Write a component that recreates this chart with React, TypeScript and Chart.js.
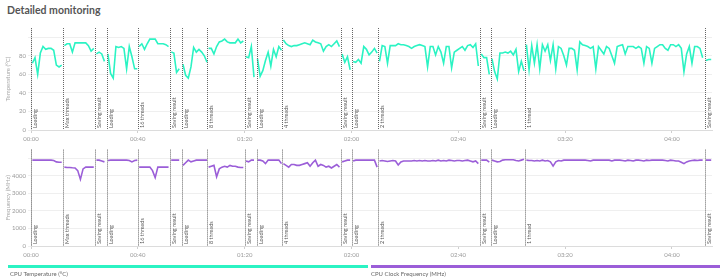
import React, { useEffect, useRef } from "react";
import { Chart, registerables } from "chart.js";
Chart.register(...registerables);

const TEAL = "#2bf3c3";
const PURPLE = "#9b5ed8";
const FONT = "Lato";

// Phase markers (minutes from start)
const phaseLabels = ["Loading", "Max threads", "Saving result", "Loading", "16 threads", "Saving result", "Loading", "8 threads", "Saving result", "Loading", "4 threads", "Saving result", "Loading", "2 threads", "Saving result", "Loading", "1 thread", "Saving result"];
const phaseStarts = [0, 12, 24, 28.3, 40, 52, 56.4, 66, 80, 84.5, 94, 116, 120.3, 130, 168.2, 172.3, 185, 252.2];
// time of first sample in each phase (minutes); samples every minute
const firstSample = [0.5, 12.5, 24.5, 28.8, 40.5, 52.5, 56.9, 66.5, 80.5, 84.8, 94.5, 116.5, 120.6, 130.5, 168.6, 172.6, 185.5, 252.7];
const sampleStep = 1;

// x axis
const xMin = 0;
const xMax = 255;
const xTickStep = 40;

// CPU temperature (°C) per phase
const temp1 = [72, 78, 60, 83, 90, 87, 88, 88, 86, 70, 68, 70];
const temp2 = [91, 93, 93, 84, 94, 94, 94, 94, 94, 91, 85, 88];
const temp3 = [82, 84, 82, 74];
const temp4 = [82, 61, 56, 90, 89, 90, 88, 66, 90, 79, 66, 66];
const temp5 = [90, 93, 87, 93, 98, 98, 98, 93, 93, 93, 92, 90];
const temp6 = [84, 83, 62, 66];
const temp7 = [71, 59, 56, 68, 89, 84, 87, 84, 80, 73];
const temp8 = [88, 88, 82, 90, 95, 96, 98, 95, 94, 94, 94, 98, 94, 96];
const temp9 = [79, 78, 90, 57];
const temp10 = [77, 58, 64, 75, 84, 69, 87, 79, 90, 86];
const temp11 = [97, 93, 91, 90, 91, 91, 92, 93, 94, 93, 92, 97, 95, 94, 93, 85, 90, 92, 90, 93, 96, 90];
const temp12 = [82, 73, 79, 65];
const temp13 = [74, 73, 76, 72, 90, 87, 81, 84, 88, 83];
const temp14 = [74, 91, 90, 72, 91, 91, 91, 93, 92, 92, 91, 90, 88, 90, 91, 92, 91, 90, 68, 90, 90, 81, 90, 84, 72, 90, 90, 67, 84, 86, 88, 90, 86, 91, 92, 89, 93, 69];
const temp15 = [82, 78, 78, 60];
const temp16 = [77, 63, 55, 83, 83, 84, 83, 85, 81, 87, 63, 74, 64];
const temp17 = [92, 65, 91, 72, 92, 66, 92, 85, 92, 75, 92, 66, 90, 88, 80, 70, 88, 88, 86, 65, 95, 92, 91, 90, 88, 90, 66, 90, 86, 82, 90, 88, 80, 72, 90, 91, 92, 82, 90, 90, 90, 88, 90, 88, 72, 90, 88, 72, 88, 90, 92, 92, 88, 86, 92, 92, 90, 92, 88, 63, 82, 90, 72, 90, 90, 88, 78];
const temp18 = [75, 76, 76];

// CPU clock frequency (MHz) per phase
const freq1 = [4900, 4900, 4900, 4900, 4900, 4900, 4900, 4900, 4880, 4800, 4780, 4780];
const freq2 = [4500, 4480, 4480, 4460, 4450, 4300, 3800, 4400, 4500, 4500, 4500, 4500];
const freq3 = [4900, 4900, 4850, 4800];
const freq4 = [4880, 4900, 4900, 4900, 4900, 4900, 4900, 4900, 4880, 4800, 4880, 4900];
const freq5 = [4500, 4500, 4500, 4500, 4500, 4300, 3900, 4500, 4500, 4500, 4500, 4500];
const freq6 = [4900, 4900, 4900, 4900];
const freq7 = [4600, 4750, 4900, 4800, 4850, 4900, 4900, 4900, 4900, 4900];
const freq8 = [4500, 4550, 4600, 3950, 4400, 4500, 4550, 4500, 4600, 4550, 4550, 4500, 4480, 4480];
const freq9 = [4850, 4800, 4900, 4900];
const freq10 = [4900, 4900, 4850, 4700, 4900, 4900, 4900, 4900, 4900, 4700];
const freq11 = [4700, 4600, 4500, 4650, 4650, 4600, 4600, 4650, 4700, 4750, 4550, 4750, 4900, 4550, 4650, 4600, 4500, 4550, 4450, 4550, 4650, 4500];
const freq12 = [4800, 4850, 4900, 4900];
const freq13 = [4850, 4900, 4900, 4900, 4900, 4900, 4900, 4900, 4900, 4500];
const freq14 = [4850, 4880, 4850, 4820, 4850, 4880, 4850, 4620, 4800, 4850, 4850, 4850, 4850, 4880, 4850, 4880, 4850, 4880, 4850, 4850, 4880, 4850, 4900, 4850, 4880, 4850, 4900, 4880, 4850, 4880, 4880, 4850, 4880, 4900, 4850, 4800, 4850, 4700];
const freq15 = [4900, 4900, 4900, 4780];
const freq16 = [4900, 4850, 4800, 4820, 4900, 4920, 4920, 4920, 4920, 4880, 4850, 4900, 4950];
const freq17 = [4900, 4880, 4880, 4850, 4880, 4850, 4900, 4850, 4880, 4800, 4560, 4800, 4880, 4850, 4900, 4900, 4900, 4900, 4900, 4900, 4900, 4900, 4900, 4880, 4850, 4900, 4900, 4900, 4900, 4900, 4900, 4900, 4850, 4900, 4900, 4900, 4880, 4850, 4900, 4880, 4850, 4900, 4900, 4880, 4850, 4900, 4880, 4900, 4900, 4900, 4900, 4900, 4880, 4850, 4900, 4880, 4850, 4850, 4780, 4700, 4800, 4850, 4880, 4900, 4880, 4900, 4900];
const freq18 = [4900, 4900, 4900];

const tempSegments = [temp1, temp2, temp3, temp4, temp5, temp6, temp7, temp8, temp9, temp10, temp11, temp12, temp13, temp14, temp15, temp16, temp17, temp18];
const freqSegments = [freq1, freq2, freq3, freq4, freq5, freq6, freq7, freq8, freq9, freq10, freq11, freq12, freq13, freq14, freq15, freq16, freq17, freq18];

function buildPoints(segments: number[][]) {
  const pts: { x: number; y: number | null }[] = [];
  segments.forEach((seg, si) => {
    seg.forEach((v, i) => pts.push({ x: firstSample[si] + i * sampleStep, y: v }));
    const next = si + 1 < phaseStarts.length ? phaseStarts[si + 1] : xMax;
    pts.push({ x: next, y: null });
  });
  return pts;
}

function fmtTime(v: number) {
  const h = Math.floor(v / 60);
  const m = Math.round(v - h * 60);
  return String(h).padStart(2, "0") + ":" + String(m).padStart(2, "0");
}

const markerPlugin = {
  id: "phaseMarkers",
  afterDatasetsDraw(chart: any) {
    const { ctx, chartArea, scales } = chart;
    const xs = scales.x;
    ctx.save();
    phaseStarts.forEach((t, i) => {
      const x = Math.round(xs.getPixelForValue(t)) + 0.5;
      ctx.strokeStyle = "#666";
      ctx.lineWidth = 1;
      ctx.setLineDash([1, 1]);
      ctx.beginPath();
      ctx.moveTo(x, chartArea.top);
      ctx.lineTo(x, chartArea.bottom);
      ctx.stroke();
      ctx.setLineDash([]);
      ctx.save();
      ctx.translate(x + 4, chartArea.bottom - 2);
      ctx.rotate(-Math.PI / 2);
      ctx.fillStyle = "#555";
      ctx.font = `5.5px ${FONT}`;
      ctx.textAlign = "left";
      ctx.textBaseline = "middle";
      ctx.fillText(phaseLabels[i], 0, 0);
      ctx.restore();
    });
    ctx.restore();
  },
};

function makeChart(canvas: HTMLCanvasElement, segments: number[][], color: string, yMax: number, yStep: number, labelStep: number, labelMax: number, yTitle: string, padTop: number) {
  return new Chart(canvas, {
    type: "line",
    data: {
      datasets: [
        {
          data: buildPoints(segments) as any,
          borderColor: color,
          backgroundColor: color,
          borderWidth: 1.6,
          pointRadius: 0,
          tension: 0,
          spanGaps: false,
        },
      ],
    },
    options: {
      animation: false,
      responsive: false,
      parsing: true,
      layout: { padding: { top: padTop, right: 8, left: 0, bottom: 0 } },
      plugins: { legend: { display: false }, tooltip: { enabled: false } },
      scales: {
        x: {
          type: "linear",
          min: xMin,
          max: xMax,
          afterFit: (s: any) => { s.height = 16; },
          grid: { display: true, drawOnChartArea: false, drawTicks: true, tickLength: 3, color: "#cfcfcf" },
          border: { color: "#dcdcdc" },
          ticks: {
            stepSize: xTickStep,
            includeBounds: false,
            padding: 2,
            color: "#9a9a9a",
            font: { family: FONT, size: 6 },
            maxRotation: 0,
            callback: (v: any) => (Number(v) % xTickStep === 0 ? fmtTime(Number(v)) : ""),
          },
        },
        y: {
          min: 0,
          max: yMax,
          afterFit: (s: any) => { s.width = 31; },
          grid: { color: "#efefef", tickLength: 3, drawTicks: true },
          border: { color: "#dcdcdc" },
          ticks: {
            stepSize: yStep,
            padding: 2,
            color: "#9a9a9a",
            font: { family: FONT, size: 6 },
            callback: (v: any) => (Number(v) % labelStep === 0 && Number(v) <= labelMax ? String(v) : ""),
          },
          title: { display: true, text: yTitle, color: "#a8a8a8", font: { family: FONT, size: 6 }, padding: { top: 4, bottom: 0 } },
        },
      },
    },
    plugins: [markerPlugin],
  });
}

export default function App() {
  const topRef = useRef<HTMLCanvasElement>(null);
  const botRef = useRef<HTMLCanvasElement>(null);
  useEffect(() => {
    const c1 = makeChart(topRef.current!, tempSegments, TEAL, 110, 10, 20, 80, "Temperature (°C)", 28);
    const c2 = makeChart(botRef.current!, freqSegments, PURPLE, 5500, 500, 1000, 4000, "Frequency (MHz)", 0);
    return () => { c1.destroy(); c2.destroy(); };
  }, []);
  return (
    <div style={{ position: "absolute", left: 0, top: 0, width: 720, height: 278, background: "#fff", fontFamily: FONT, overflow: "hidden" }}>
      <div style={{ position: "absolute", left: 7, top: 4, fontSize: 10.5, lineHeight: "13px", fontWeight: 700, color: "#555" }}>Detailed monitoring</div>
      <canvas ref={topRef} width={720} height={146} style={{ position: "absolute", left: 0, top: 0, width: 720, height: 146 }} />
      <canvas ref={botRef} width={720} height={118} style={{ position: "absolute", left: 0, top: 144, width: 720, height: 118 }} />
      <div style={{ position: "absolute", left: 8, top: 265, width: 360, height: 3, background: TEAL }} />
      <div style={{ position: "absolute", left: 371, top: 265, width: 349, height: 3, background: PURPLE }} />
      <div style={{ position: "absolute", left: 10, top: 270, fontSize: 6, lineHeight: "7px", color: "#666" }}>CPU Temperature (°C)</div>
      <div style={{ position: "absolute", left: 371, top: 270, fontSize: 6, lineHeight: "7px", color: "#666" }}>CPU Clock Frequency (MHz)</div>
    </div>
  );
}
